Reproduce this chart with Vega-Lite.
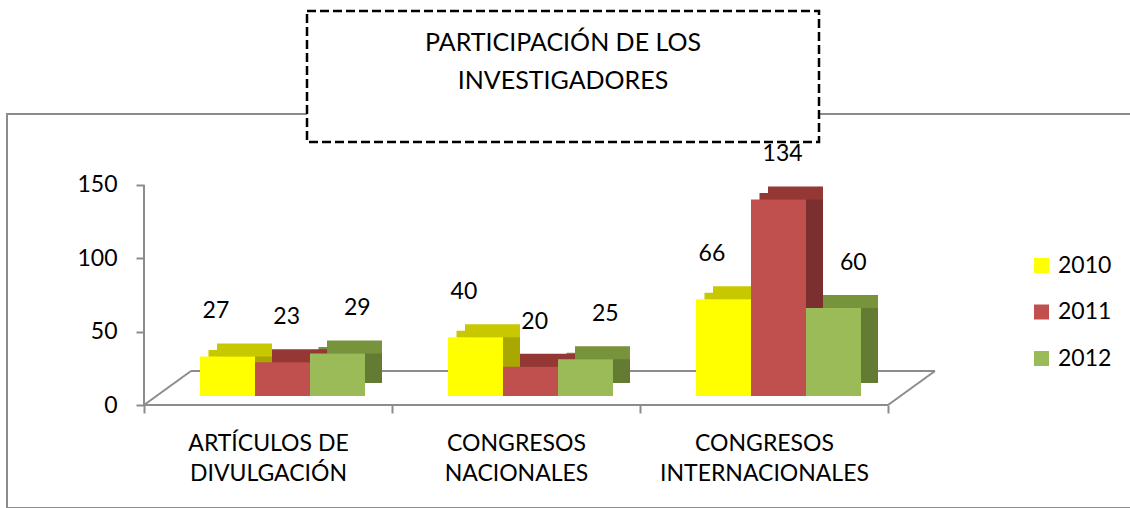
{
  "$schema": "https://vega.github.io/schema/vega-lite/v6.json",
  "padding": {"left": 7, "top": 9, "right": 0, "bottom": 0},
  "background": "white",
  "width": 1126,
  "height": 394,
  "view": {"stroke": "#8c8c8c", "strokeWidth": 2, "fill": "white"},
  "config": {
    "font": "Lato",
    "axis": {"labelFont": "Lato", "titleFont": "Lato"},
    "legend": {"labelFont": "Lato", "titleFont": "Lato", "strokeDash": [9, 4], "strokeWidth": 2.5},
    "text": {"font": "Lato"}
  },
  "data": {
    "values": [
      {"cat": "ARTÍCULOS DE DIVULGACIÓN", "year": "2010", "v": 27},
      {"cat": "ARTÍCULOS DE DIVULGACIÓN", "year": "2011", "v": 23},
      {"cat": "ARTÍCULOS DE DIVULGACIÓN", "year": "2012", "v": 29},
      {"cat": "CONGRESOS NACIONALES", "year": "2010", "v": 40},
      {"cat": "CONGRESOS NACIONALES", "year": "2011", "v": 20},
      {"cat": "CONGRESOS NACIONALES", "year": "2012", "v": 25},
      {"cat": "CONGRESOS INTERNACIONALES", "year": "2010", "v": 66},
      {"cat": "CONGRESOS INTERNACIONALES", "year": "2011", "v": 134},
      {"cat": "CONGRESOS INTERNACIONALES", "year": "2012", "v": 60}
    ]
  },
  "resolve": {"scale": {"color": "independent", "xOffset": "independent"}, "legend": {"color": "independent"}},
  "layer": [
    {
      "data": {"values": [{}]},
      "mark": {"type": "rule", "color": "#8c8c8c", "strokeWidth": 2},
      "encoding": {
        "x": {"datum": "ARTÍCULOS DE DIVULGACIÓN", "type": "nominal", "bandPosition": 0,
              "scale": {"domain": ["ARTÍCULOS DE DIVULGACIÓN", "CONGRESOS NACIONALES", "CONGRESOS INTERNACIONALES"], "paddingInner": 0, "paddingOuter": 0.77016, "align": 0.35864},
              "axis": {"orient": "bottom", "offset": -103, "title": null, "domain": false, "tickBand": "extent", "tickColor": "#8c8c8c", "tickWidth": 2, "tickSize": 8, "labelFontSize": 23, "labelColor": "#000000", "labelLineHeight": 30, "labelPadding": 19, "labelAngle": 0, "labelLimit": 400,
                       "labelExpr": "datum.label == 'ARTÍCULOS DE DIVULGACIÓN' ? ['ARTÍCULOS DE', 'DIVULGACIÓN'] : split(datum.label, ' ')"}},
        "y": {"datum": 0, "type": "quantitative", "scale": {"domain": [-70.2, 198.4], "nice": false, "zero": false},
              "axis": {"orient": "left", "offset": -137, "title": null, "domain": false, "grid": false, "values": [0, 50, 100, 150], "tickColor": "#8c8c8c", "tickWidth": 2, "tickSize": 8, "labelFontSize": 23, "labelColor": "#000000", "labelPadding": 19}},
        "y2": {"datum": 150}
      }
    },
    {
      "data": {"values": [{}]},
      "mark": {"type": "rule", "color": "#8c8c8c", "strokeWidth": 2},
      "encoding": {
        "x": {"datum": "ARTÍCULOS DE DIVULGACIÓN", "type": "nominal", "bandPosition": 0},
        "x2": {"datum": "CONGRESOS INTERNACIONALES", "bandPosition": 1},
        "y": {"datum": 0, "type": "quantitative"}
      }
    },
    {
      "data": {"values": [{}]},
      "mark": {"type": "rule", "color": "#8c8c8c", "strokeWidth": 2, "xOffset": 47, "x2Offset": 47, "yOffset": -34},
      "encoding": {
        "x": {"datum": "ARTÍCULOS DE DIVULGACIÓN", "type": "nominal", "bandPosition": 0},
        "x2": {"datum": "CONGRESOS INTERNACIONALES", "bandPosition": 1},
        "y": {"datum": 0, "type": "quantitative"}
      }
    },
    {
      "data": {"values": [{}]},
      "mark": {"type": "rule", "color": "#8c8c8c", "strokeWidth": 2, "x2Offset": 47, "y2Offset": -34},
      "encoding": {
        "x": {"datum": "ARTÍCULOS DE DIVULGACIÓN", "type": "nominal", "bandPosition": 0},
        "x2": {"datum": "ARTÍCULOS DE DIVULGACIÓN", "bandPosition": 0},
        "y": {"datum": 0, "type": "quantitative"},
        "y2": {"datum": 0}
      }
    },
    {
      "data": {"values": [{}]},
      "mark": {"type": "rule", "color": "#8c8c8c", "strokeWidth": 2, "x2Offset": 47, "y2Offset": -34},
      "encoding": {
        "x": {"datum": "CONGRESOS INTERNACIONALES", "type": "nominal", "bandPosition": 1},
        "x2": {"datum": "CONGRESOS INTERNACIONALES", "bandPosition": 1},
        "y": {"datum": 0, "type": "quantitative"},
        "y2": {"datum": 0}
      }
    },
    {
      "mark": {"type": "bar", "yOffset": -15.5, "y2Offset": -22},
      "encoding": {
        "x": {"field": "cat", "type": "nominal"},
        "xOffset": {"field": "year", "type": "nominal", "scale": {"domain": ["2010", "2011", "2012"], "paddingInner": 0, "paddingOuter": 0.7545, "align": 0.7771}},
        "y": {"field": "v", "type": "quantitative"},
        "y2": {"datum": 0},
        "color": {"field": "year", "type": "nominal", "legend": null, "scale": {"domain": ["2010", "2011", "2012"], "range": ["#c8c800", "#953735", "#77933c"]}}
      }
    },
    {
      "mark": {"type": "bar", "yOffset": -22, "y2Offset": -22},
      "encoding": {
        "x": {"field": "cat", "type": "nominal"},
        "xOffset": {"field": "year", "type": "nominal", "scale": {"domain": ["2010", "2011", "2012"], "paddingInner": 0, "paddingOuter": 0.7545, "align": 0.8795}},
        "y": {"field": "v", "type": "quantitative"},
        "y2": {"datum": 0},
        "color": {"field": "year", "type": "nominal", "legend": null, "scale": {"domain": ["2010", "2011", "2012"], "range": ["#c8c800", "#953735", "#77933c"]}}
      }
    },
    {
      "mark": {"type": "bar", "yOffset": -9, "y2Offset": -22},
      "encoding": {
        "x": {"field": "cat", "type": "nominal"},
        "xOffset": {"field": "year", "type": "nominal", "scale": {"domain": ["2010", "2011", "2012"], "paddingInner": 0, "paddingOuter": 0.7545, "align": 0.8795}},
        "y": {"field": "v", "type": "quantitative"},
        "y2": {"datum": 0},
        "color": {"field": "year", "type": "nominal", "legend": null, "scale": {"domain": ["2010", "2011", "2012"], "range": ["#a8a800", "#7b302f", "#637b32"]}}
      }
    },
    {
      "mark": {"type": "bar", "yOffset": -9, "y2Offset": -9},
      "encoding": {
        "x": {"field": "cat", "type": "nominal"},
        "xOffset": {"field": "year", "type": "nominal", "scale": {"domain": ["2010", "2011", "2012"], "paddingInner": 0, "paddingOuter": 0.7545, "align": 0.6747}},
        "y": {"field": "v", "type": "quantitative"},
        "y2": {"datum": 0},
        "color": {"field": "year", "type": "nominal",
                  "scale": {"domain": ["2010", "2011", "2012"], "range": ["#ffff00", "#c0504d", "#9bbb59"]},
                  "legend": {"orient": "none", "legendX": 1023, "legendY": 140, "title": null, "symbolType": "square", "symbolSize": 225, "symbolStrokeWidth": 0, "labelFontSize": 23, "labelColor": "#000000", "rowPadding": 22.5, "labelOffset": 5, "padding": 0, "strokeColor": "transparent"}}
      }
    },
    {
      "mark": {"type": "text", "fontSize": 23, "color": "#000000", "baseline": "middle", "dy": -54},
      "encoding": {
        "x": {"field": "cat", "type": "nominal"},
        "xOffset": {"field": "year", "type": "nominal", "scale": {"domain": ["2010", "2011", "2012"], "paddingInner": 0, "paddingOuter": 0.7545, "align": 0.6747}},
        "y": {"field": "v", "type": "quantitative"},
        "text": {"field": "v", "type": "quantitative"}
      }
    },
    {
      "mark": {"type": "point", "opacity": 0, "size": 0},
      "encoding": {
        "shape": {"field": "cat", "type": "nominal",
                  "legend": {"orient": "none", "legendX": 300, "legendY": -103, "direction": "horizontal", "columns": 3, "columnPadding": 221,
                             "title": ["PARTICIPACIÓN DE LOS", "INVESTIGADORES"], "titleFontSize": 25, "titleFontWeight": "normal", "titleColor": "#000000", "titleAnchor": "middle", "titleLineHeight": 38, "titleLimit": 600, "titlePadding": 18,
                             "symbolSize": 100, "symbolOpacity": 0, "symbolStrokeWidth": 0, "labelExpr": "''", "labelFontSize": 1, "labelOffset": 0,
                             "padding": 20, "strokeColor": "#000000", "fillColor": "white"}}
      }
    }
  ]
}
